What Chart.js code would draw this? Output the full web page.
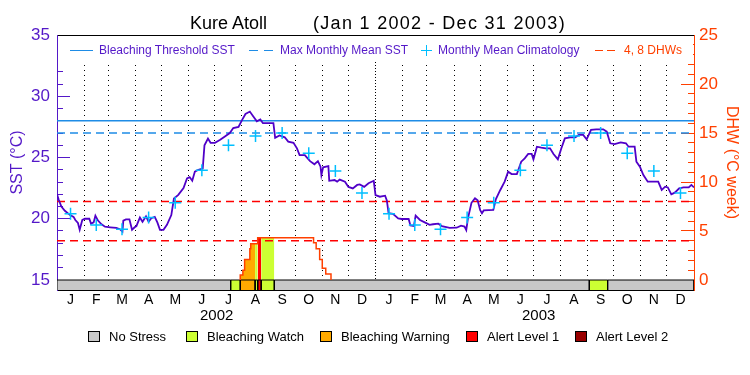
<!doctype html>
<html>
<head>
<meta charset="utf-8">
<title>Kure Atoll · SST and DHW 2002-2003</title>
<style>
  html, body { margin: 0; padding: 0; background: #fff; }
  body { width: 750px; height: 375px; position: relative; overflow: hidden;
         font-family: "Liberation Sans", Arial, sans-serif; }
  #chart { position: absolute; left: 0; top: 0; }
  .abs { position: absolute; white-space: pre; }
  .title { top: 12px; font-size: 18px; line-height: 22px; color: #000; }
  .toplegend { position: absolute; left: 58px; top: 36px; width: 635px; height: 26px; background: #fff; }
  .tl { position: absolute; top: 43px; font-size: 12px; line-height: 14px; color: #5418c8; white-space: nowrap; }
  .sym { position: absolute; height: 0; }
  .cross { position: absolute; width: 11px; height: 11px; }
  .cross::before, .cross::after { content: ""; position: absolute; background: #00bfff; }
  .cross::before { left: 5px; top: 0; width: 1.2px; height: 11px; }
  .cross::after { top: 5px; left: 0; height: 1.2px; width: 11px; }
  .bl { position: absolute; top: 329px; font-size: 13px; line-height: 15px; color: #000; white-space: nowrap; }
  .box { position: absolute; top: 331px; width: 10px; height: 9px; border: 1px solid #000; }
</style>
</head>
<body>
<canvas id="chart" width="750" height="375"></canvas>

<div class="abs title" style="left:190px">Kure Atoll</div>
<div class="abs title" style="left:313px; letter-spacing:1.3px">(Jan 1 2002 - Dec 31 2003)</div>

<div class="toplegend"></div>
<div class="sym" style="left:70px; top:50px; width:23px; border-top:1.5px solid #1e8ce6"></div>
<div class="tl" style="left:99px">Bleaching Threshold SST</div>
<div class="sym" style="left:249px; top:50px; width:9px; border-top:1.5px solid #1e8ce6"></div>
<div class="sym" style="left:264px; top:50px; width:9px; border-top:1.5px solid #1e8ce6"></div>
<div class="tl" style="left:280px">Max Monthly Mean SST</div>
<div class="cross" style="left:421px; top:45px"></div>
<div class="tl" style="left:438px">Monthly Mean Climatology</div>
<div class="sym" style="left:595px; top:50px; width:8px; border-top:1.5px solid #ff4000"></div>
<div class="sym" style="left:607px; top:50px; width:8px; border-top:1.5px solid #ff4000"></div>
<div class="tl" style="left:624px; color:#ff4000">4, 8 DHWs</div>

<div id="statusLegend"></div>

<script src="https://cdn.jsdelivr.net/npm/chart.js@4.4.1/dist/chart.umd.min.js"></script>
<script>
// ---- data ----
const MONTH_LEN = [31,28,31,30,31,30,31,31,30,31,30,31, 31,28,31,30,31,30,31,31,30,31,30,31];
const MONTH_LABELS = ['J','F','M','A','M','J','J','A','S','O','N','D', 'J','F','M','A','M','J','J','A','S','O','N','D'];
const YEAR_LABELS = ['2002', '2003'];
const YEAR_TICK_DAYS = [183, 552];

// monthly mean climatology (Jan..Dec), degC
const CLIM_SST = [20.4, 19.5, 19.15, 20.1, 21.3, 23.95, 26.0, 26.75, 27.0, 25.35, 23.9, 22.1];
const THRESHOLD_SST = 28.0;
const MMM_SST = 27.0;
const DHW_LEVELS = [4, 8];

// satellite SST, day index from Jan 1 2002
const SST_DAYS = [0,2,5,9,15,19,21,24,26,29,32,37,39,42,44,47,51,55,61,68,72,75,76,79,83,86,89,91,95,98,
  102,105,108,112,115,118,122,126,131,134,139,145,149,152,155,158,162,167,169,173,176,181,187,192,198,
  202,208,212,216,221,225,229,233,236,248,250,255,261,265,271,275,278,284,290,295,299,302,303,305,311,
  312,318,321,324,330,334,339,344,347,352,357,363,365,370,376,378,380,385,391,395,403,405,409,411,416,
  422,427,431,437,441,450,458,463,467,469,471,475,479,482,485,487,489,500,503,508,513,517,521,527,532,
  536,540,544,546,550,555,560,565,569,574,578,582,588,594,598,603,607,612,618,626,630,634,639,646,652,
  655,662,664,668,672,677,689,693,697,700,704,708,713,718,724,727,730];
const SST_VALUES = [22.0,21.55,21.0,20.65,20.3,20.15,19.9,19.65,19.1,19.9,20.0,20.0,19.6,19.7,20.25,19.85,19.55,19.35,19.3,19.25,19.15,18.95,19.85,19.95,19.95,19.1,19.3,19.4,20.1,19.75,
  20.2,19.75,20.05,20.15,19.7,19.1,19.1,19.5,20.3,21.65,21.95,22.5,23.3,23.4,23.1,23.85,24.0,24.1,26.0,26.55,26.2,26.2,26.45,26.7,27.0,
  27.4,27.5,28.05,28.55,28.75,28.35,27.95,28.1,27.8,27.8,26.6,26.8,26.65,26.3,26.2,25.75,25.2,25.2,24.7,24.45,24.7,24.25,23.57,24.2,24.3,
  23.1,23.16,23.03,23.2,23.03,22.6,22.48,22.76,22.8,22.6,22.9,23.1,21.94,21.8,21.88,21.5,20.45,20.4,20.03,19.98,19.98,19.45,19.41,20.25,19.9,
  19.68,19.5,19.55,19.6,19.4,19.25,19.27,19.44,19.36,19.08,20.05,21.3,21.67,21.5,20.7,20.45,20.68,20.72,21.6,22.35,23.03,23.84,23.65,23.65,24.66,
  24.93,25.29,25.29,24.85,25.88,25.8,25.75,25.75,25.29,24.85,25.75,26.56,26.65,26.65,26.84,26.84,26.48,27.25,27.3,27.3,27.11,26.16,26.1,26.24,26.16,
  25.88,25.88,24.66,24.25,23.57,23.03,23.03,22.35,22.62,22.56,21.99,22.13,22.48,22.56,22.56,22.76,22.56];

// degree heating weeks: value holds from that day on
const DHW_DAYS   = [210, 213, 215, 221, 222, 230, 294, 297, 301, 304, 308, 314];
const DHW_VALUES = [0.5, 1.0, 2.1, 3.2, 3.7, 4.3, 3.8, 3.2, 2.1, 1.2, 0.6, 0];

// bleaching alert status: 0 none, 1 watch, 2 warning, 3 alert 1, 4 alert 2
const STATUS_START = [0,   199, 210, 227, 230, 234, 249, 610, 631];
const STATUS_END   = [199, 210, 227, 230, 234, 249, 610, 631, 730];
const STATUS_LEVEL = [0,   1,   2,   1,   3,   1,   0,   1,   0];
const STATUS_NAMES = ['No Stress', 'Bleaching Watch', 'Bleaching Warning', 'Alert Level 1', 'Alert Level 2'];

// ---- style ----
const STATUS_COLORS = ['#c8c8c8', '#ccff33', '#ffaa00', '#ff0000', '#990000'];
const PURPLE = '#5418c8';
const ORANGE = '#ff4000';
const BLUE = '#1e8ce6';
const FONT = '"Liberation Sans", Arial, sans-serif';

const TOTAL_DAYS = MONTH_LEN.reduce((a, b) => a + b, 0);
const monthStarts = [0];
MONTH_LEN.forEach(n => monthStarts.push(monthStarts[monthStarts.length - 1] + n));
const monthMids = MONTH_LEN.map((n, i) => monthStarts[i] + n / 2);

// status band sits below SST 15 / DHW 0, as a share of the plot height
const BAND = 10 / 255;
const SST_TOP = 35, SST_BASE = 15, DHW_TOP = 25;
const SST_MIN = (SST_BASE - SST_TOP * BAND) / (1 - BAND);
const DHW_MIN = (-DHW_TOP * BAND) / (1 - BAND);

function dhwAt(day) {
  let v = 0;
  DHW_DAYS.forEach((d, i) => { if (d <= day) v = DHW_VALUES[i]; });
  return v;
}
function dhwPath(from, to) {
  let cur = dhwAt(from);
  const pts = [{ x: from, y: 0 }, { x: from, y: cur }];
  DHW_DAYS.forEach((d, i) => {
    if (d > from && d < to) { pts.push({ x: d, y: cur }); cur = DHW_VALUES[i]; pts.push({ x: d, y: cur }); }
  });
  pts.push({ x: to, y: cur }, { x: to, y: 0 });
  return pts;
}

const datasets = [];
datasets.push({
  label: 'SST', yAxisID: 'ySST', order: 1,
  data: SST_DAYS.map((d, i) => ({ x: d, y: SST_VALUES[i] })),
  borderColor: '#5000c8', borderWidth: 1.8
});
datasets.push({
  label: 'Monthly Mean Climatology', yAxisID: 'ySST', order: 0, showLine: false,
  data: monthMids.map((d, i) => ({ x: d, y: CLIM_SST[i % 12] })),
  pointStyle: 'cross', pointRadius: 6, borderColor: '#00bfff', borderWidth: 1.5
});
datasets.push({
  label: 'Bleaching Threshold SST', yAxisID: 'ySST', order: 3,
  data: [{ x: 0, y: THRESHOLD_SST }, { x: TOTAL_DAYS, y: THRESHOLD_SST }],
  borderColor: BLUE, borderWidth: 1.5
});
datasets.push({
  label: 'Max Monthly Mean SST', yAxisID: 'ySST', order: 3,
  data: [{ x: 0, y: MMM_SST }, { x: TOTAL_DAYS, y: MMM_SST }],
  borderColor: BLUE, borderWidth: 1.5, borderDash: [8, 5]
});
DHW_LEVELS.forEach(lv => datasets.push({
  label: lv + ' DHW', yAxisID: 'yDHW', order: 3,
  data: [{ x: 0, y: lv }, { x: TOTAL_DAYS, y: lv }],
  borderColor: '#ff0000', borderWidth: 1.5, borderDash: [8, 5]
}));
datasets.push({
  label: 'DHW', yAxisID: 'yDHW', order: 2,
  data: dhwPath(DHW_DAYS[0], DHW_DAYS[DHW_DAYS.length - 1]),
  borderColor: ORANGE, borderWidth: 1.5
});
STATUS_START.forEach((s, i) => {
  const e = STATUS_END[i], lv = STATUS_LEVEL[i];
  if (lv > 0) {
    datasets.push({
      label: 'DHW fill ' + i, yAxisID: 'yDHW', order: 6,
      data: dhwPath(s, e), borderWidth: 0, fill: 'origin',
      backgroundColor: STATUS_COLORS[lv]
    });
  }
  datasets.push({
    label: 'status ' + i, yAxisID: 'ySST', order: 5,
    data: [{ x: s, y: SST_MIN }, { x: s, y: SST_BASE }, { x: e, y: SST_BASE }, { x: e, y: SST_MIN }],
    borderColor: '#000', borderWidth: 1, fill: 'start',
    backgroundColor: STATUS_COLORS[lv]
  });
});

// status legend below the chart
const legendPos = [88, 186, 320, 466, 575];
document.getElementById('statusLegend').innerHTML = STATUS_NAMES.map((n, i) =>
  '<div class="box" style="left:' + legendPos[i] + 'px;background:' + STATUS_COLORS[i] + '"></div>' +
  '<div class="bl" style="left:' + (legendPos[i] + 21) + 'px">' + n + '</div>').join('');

Chart.defaults.font.family = FONT;
const isYearEdge = c => c.tick && c.tick.value === 365;

new Chart(document.getElementById('chart'), {
  type: 'line',
  data: { datasets },
  options: {
    responsive: false, animation: false, devicePixelRatio: 1, events: [],
    layout: { padding: { top: 35, bottom: 48, left: 0, right: 0 } },
    elements: { point: { radius: 0 }, line: { tension: 0 } },
    plugins: { legend: { display: false }, tooltip: { enabled: false }, title: { display: false } },
    scales: {
      x: {
        type: 'linear', axis: 'x', position: 'bottom', min: 0, max: TOTAL_DAYS, weight: 0,
        afterBuildTicks: s => { s.ticks = monthStarts.slice(1, -1).map(v => ({ value: v })); },
        ticks: { display: false },
        grid: { color: '#000', lineWidth: 1, drawTicks: false },
        border: { display: false, dash: c => isYearEdge(c) ? [1, 2] : [1, 4] },
        afterFit: s => { s.height = 0; }
      },
      xMonths: {
        type: 'linear', axis: 'x', position: 'bottom', min: 0, max: TOTAL_DAYS, weight: 1,
        afterBuildTicks: s => { s.ticks = monthMids.map(v => ({ value: v })); },
        ticks: { autoSkip: false, maxRotation: 0, padding: 2, color: '#000', font: { size: 14 },
                 callback: (v, i) => MONTH_LABELS[i] },
        grid: { display: false, drawTicks: false },
        border: { color: '#000', width: 1 },
        afterFit: s => { s.height = 17; }
      },
      xYears: {
        type: 'linear', axis: 'x', position: 'bottom', min: 0, max: TOTAL_DAYS, weight: 2,
        afterBuildTicks: s => { s.ticks = YEAR_TICK_DAYS.map(v => ({ value: v })); },
        ticks: { autoSkip: false, maxRotation: 0, padding: 0, color: '#000', font: { size: 15 },
                 callback: (v, i) => YEAR_LABELS[i] },
        grid: { display: false, drawTicks: false },
        border: { display: false },
        afterFit: s => { s.height = 20; }
      },
      xTop: {
        type: 'linear', axis: 'x', position: 'top', min: 0, max: TOTAL_DAYS,
        ticks: { display: false }, grid: { display: false, drawTicks: false },
        border: { color: '#000', width: 1 },
        afterFit: s => { s.height = 0; }
      },
      ySST: {
        type: 'linear', axis: 'y', position: 'left', min: SST_MIN, max: SST_TOP, weight: 1,
        afterBuildTicks: s => { s.ticks = [15, 20, 25, 30, 35].map(v => ({ value: v })); },
        ticks: { color: PURPLE, font: { size: 17 }, padding: 20 },
        grid: { drawOnChartArea: false, tickLength: -13, tickColor: PURPLE },
        border: { color: PURPLE, width: 1 },
        title: { display: true, text: 'SST (°C)', color: PURPLE, font: { size: 16 }, padding: { top: 8, bottom: 0 } },
        afterFit: s => { s.width = 57; }
      },
      ySSTminor: {
        type: 'linear', axis: 'y', position: 'left', min: SST_MIN, max: SST_TOP, weight: 0,
        afterBuildTicks: s => { s.ticks = []; for (let v = SST_BASE; v <= SST_TOP; v++) s.ticks.push({ value: v }); },
        ticks: { display: false },
        grid: { drawOnChartArea: false, tickLength: -6, tickColor: PURPLE },
        border: { display: false },
        afterFit: s => { s.width = 0; }
      },
      yDHW: {
        type: 'linear', axis: 'y', position: 'right', min: DHW_MIN, max: DHW_TOP, weight: 1,
        afterBuildTicks: s => { s.ticks = [0, 5, 10, 15, 20, 25].map(v => ({ value: v })); },
        ticks: { color: ORANGE, font: { size: 17 }, padding: 18 },
        grid: { drawOnChartArea: false, tickLength: -13, tickColor: ORANGE },
        border: { color: ORANGE, width: 1 },
        title: { display: true, text: 'DHW (°C week)', color: ORANGE, font: { size: 16 }, padding: { top: 9, bottom: 0 } },
        afterFit: s => { s.width = 56; }
      },
      yDHWminor: {
        type: 'linear', axis: 'y', position: 'right', min: DHW_MIN, max: DHW_TOP, weight: 0,
        afterBuildTicks: s => { s.ticks = []; for (let v = 0; v <= DHW_TOP; v++) s.ticks.push({ value: v }); },
        ticks: { display: false },
        grid: { drawOnChartArea: false, tickLength: -6, tickColor: ORANGE },
        border: { display: false },
        afterFit: s => { s.width = 0; }
      }
    }
  }
});
</script>
</body>
</html>
